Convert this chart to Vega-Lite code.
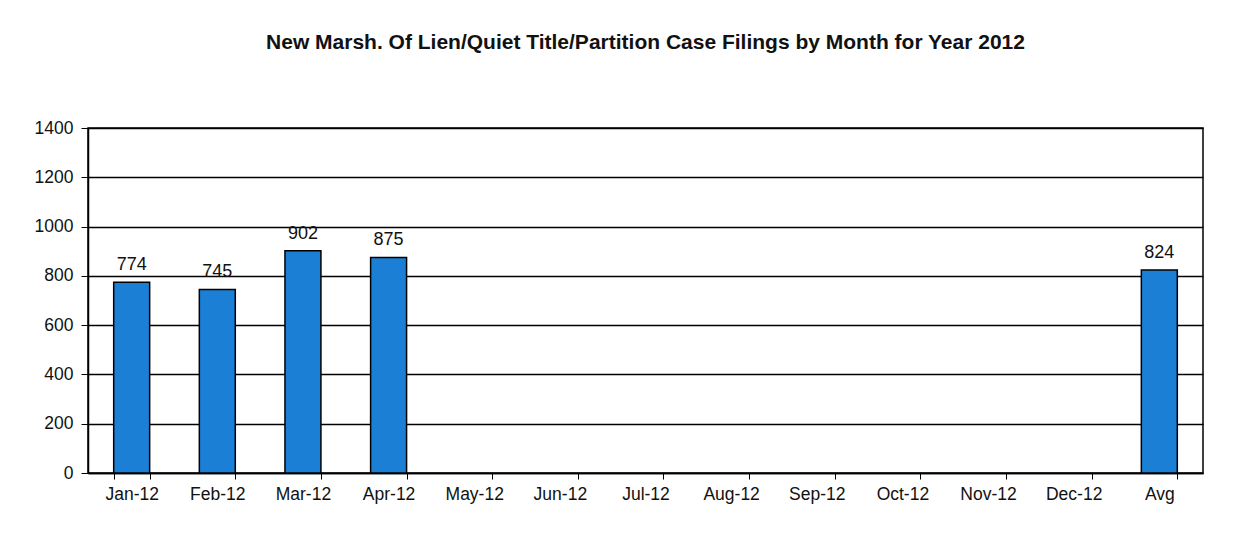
{
  "$schema": "https://vega.github.io/schema/vega-lite/v6.json",
  "width": 1115,
  "height": 345,
  "autosize": {"type": "none"},
  "padding": {"left": 88, "top": 128, "right": 44, "bottom": 77},
  "background": "white",
  "title": {
    "text": "New Marsh. Of Lien/Quiet Title/Partition Case Filings by Month for Year 2012",
    "font": "Liberation Sans",
    "fontSize": 21,
    "fontWeight": "bold",
    "color": "#111111",
    "anchor": "middle",
    "offset": 66
  },
  "config": {
    "view": {"stroke": "black", "strokeWidth": 1.5},
    "font": "Liberation Sans"
  },
  "data": {
    "values": [
      {"month": "Jan-12", "filings": 774},
      {"month": "Feb-12", "filings": 745},
      {"month": "Mar-12", "filings": 902},
      {"month": "Apr-12", "filings": 875},
      {"month": "May-12", "filings": null},
      {"month": "Jun-12", "filings": null},
      {"month": "Jul-12", "filings": null},
      {"month": "Aug-12", "filings": null},
      {"month": "Sep-12", "filings": null},
      {"month": "Oct-12", "filings": null},
      {"month": "Nov-12", "filings": null},
      {"month": "Dec-12", "filings": null},
      {"month": "Avg", "filings": 824}
    ]
  },
  "encoding": {
    "x": {
      "field": "month",
      "type": "nominal",
      "sort": null,
      "scale": {
        "domain": ["Jan-12", "Feb-12", "Mar-12", "Apr-12", "May-12", "Jun-12", "Jul-12", "Aug-12", "Sep-12", "Oct-12", "Nov-12", "Dec-12", "Avg"],
        "paddingInner": 0.58,
        "paddingOuter": 0.3
      },
      "axis": {
        "title": null,
        "labelAngle": 0,
        "labelFontSize": 17.5,
        "labelColor": "#111111",
        "labelPadding": 6,
        "tickBand": "extent",
        "tickColor": "black",
        "tickSize": 6,
        "domainColor": "black",
        "domainWidth": 1.5
      }
    },
    "y": {
      "field": "filings",
      "type": "quantitative",
      "scale": {"domain": [0, 1400]},
      "axis": {
        "title": null,
        "values": [0, 200, 400, 600, 800, 1000, 1200, 1400],
        "format": "d",
        "labelFontSize": 17.5,
        "labelColor": "#111111",
        "labelPadding": 8,
        "tickColor": "black",
        "tickSize": 7,
        "domainColor": "black",
        "domainWidth": 1.5,
        "grid": true,
        "gridColor": "black",
        "gridWidth": 1.3
      }
    }
  },
  "layer": [
    {
      "mark": {"type": "bar", "color": "#1b7fd6", "stroke": "black", "strokeWidth": 1.5}
    },
    {
      "mark": {"type": "text", "dy": -17, "fontSize": 18, "color": "#111111"},
      "encoding": {"text": {"field": "filings", "type": "quantitative"}}
    }
  ]
}
